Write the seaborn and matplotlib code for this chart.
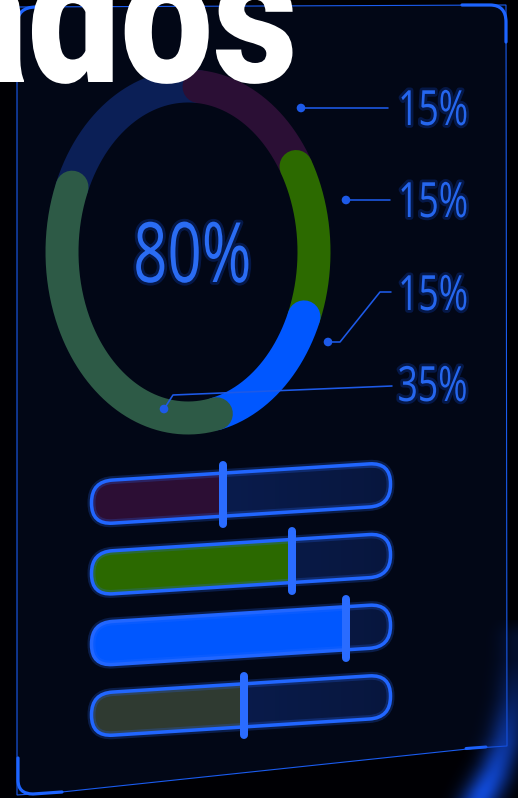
import numpy as np
import matplotlib
matplotlib.use("Agg")
import matplotlib.pyplot as plt
import seaborn as sns
from matplotlib.patches import FancyBboxPatch, Polygon, PathPatch, Circle
from matplotlib.path import Path
from matplotlib.transforms import Affine2D
import matplotlib.patheffects as pe

# ---- data -------------------------------------------------------------
title_text = "Resultados"

# donut: filled shares (clockwise from the top); the rest is the empty track
ring_values = [15, 15, 15, 35]
ring_colors = ["#2b0f35", "#2c6a00", "#0057ff", "#2d5a46"]
ring_rest_color = "#0b1f56"

# sliders
slider_names = ["s1", "s2", "s3", "s4"]
slider_values = [44, 67, 85, 51]
slider_colors = ["#2c0e34", "#2b6900", "#0057ff", "#2f3a31"]
slider_track_color = "#0b2058"

# ---- styling ----------------------------------------------------------
W, H, DPI = 518, 798, 100
BG = "#000004"
PANEL = "#020716"
EDGE = "#1a5cf0"
GLOW = "#2a6cff"
TXT = "#2566ee"
PX = 0.72  # points per pixel at 100 dpi

sns.set_theme(style="white")
plt.rcParams["font.family"] = ["Open Sans", "DejaVu Sans"]

fig = plt.figure(figsize=(W / DPI, H / DPI), dpi=DPI, facecolor=BG)


def px_axes(x0, y0, x1, y1):
    """Axes placed by a pixel box measured from the top-left corner."""
    return fig.add_axes([x0 / W, 1 - y1 / H, (x1 - x0) / W, (y1 - y0) / H])


class Narrow(pe.AbstractPathEffect):
    """Squeeze glyphs horizontally about the left or right end, optional halo."""

    def __init__(self, sx, anchor="left", halo="#0d3aa8", halo_w=4.0, halo_a=0.35):
        super().__init__()
        self.sx, self.anchor = sx, anchor
        self.halo, self.halo_w, self.halo_a = halo, halo_w, halo_a

    def draw_path(self, renderer, gc, tpath, affine, rgbFace=None):
        ext = tpath.get_extents()
        x0 = ext.x1 if self.anchor == "right" else ext.x0
        aff = (Affine2D().translate(-x0, 0).scale(self.sx, 1.0).translate(x0, 0)
               + affine)
        if self.halo is not None:
            g = renderer.new_gc()
            g.copy_properties(gc)
            g.set_linewidth(self.halo_w)
            g.set_foreground(self.halo)
            g.set_alpha(self.halo_a)
            g.set_joinstyle("round")
            renderer.draw_path(g, tpath, aff)
            g.restore()
        renderer.draw_path(gc, tpath, aff, rgbFace)


# ---- background panel -------------------------------------------------
bg = fig.add_axes([0, 0, 1, 1])
bg.set_xlim(0, W)
bg.set_ylim(H, 0)
bg.axis("off")
bg.set_facecolor(BG)

panel = Polygon([(17, 7), (506, 5), (507, 746), (477, 748), (62, 792), (17, 795)],
                closed=True, facecolor=PANEL, edgecolor=EDGE, lw=1.1 * PX, zorder=1)
bg.add_patch(panel)

# corner brackets
brackets = [
    [(462, 5), (490, 5), (506, 5), (506, 22), (506, 42)],
    [(18, 758), (18, 780), (18, 794), (33, 794), (62, 792)],
    [(17, 60), (17, 25), (17, 7), (36, 7), (60, 7)],
]
codes = [Path.MOVETO, Path.LINETO, Path.CURVE3, Path.CURVE3, Path.LINETO]
for pts in brackets:
    bg.add_patch(PathPatch(Path(pts, codes), facecolor="none", edgecolor="#1d64ff",
                           lw=3.2 * PX, capstyle="round", zorder=2))
bg.plot([466, 486], [748.5, 747], color="#1d64ff", lw=3 * PX,
        solid_capstyle="round", zorder=2)

# soft light sheen along the lower right corner
gx, gy = np.meshgrid(np.arange(400, 519) + 0.5, np.arange(620, 799) + 0.5)
curve = np.array([(517, 640), (514, 700), (506, 740), (494, 772), (476, 806)])
dist = np.full(gx.shape, 1e9)
for (ax_, ay_), (bx_, by_) in zip(curve[:-1], curve[1:]):
    vx, vy = bx_ - ax_, by_ - ay_
    t = np.clip(((gx - ax_) * vx + (gy - ay_) * vy) / (vx * vx + vy * vy), 0, 1)
    d = np.hypot(gx - (ax_ + t * vx), gy - (ay_ + t * vy))
    dist = np.minimum(dist, d)
fade = np.clip((gy - 660) / 130.0, 0, 1) ** 1.1
alpha = np.exp(-(dist / 17.0) ** 2) * (0.2 + 0.8 * fade)
sheen = np.zeros(gx.shape + (4,))
sheen[..., :3] = matplotlib.colors.to_rgb("#1149d4")
sheen[..., 3] = np.clip(alpha, 0, 1)
bg.imshow(sheen, extent=(400, 519, 799, 620), interpolation="bilinear",
          zorder=3, aspect="auto")
bg.set_xlim(0, W)
bg.set_ylim(H, 0)

# ---- donut ------------------------------------------------------------
dax = px_axes(62, 86, 314, 418)
dax.set_xlim(-1, 1)
dax.set_ylim(-1, 1)
dax.axis("off")
dax.patch.set_alpha(0)

start = 85.0
ring_lw = 33 * PX
cum = np.concatenate([[0], np.cumsum(ring_values)])


def arc(a0, a1, n=240):
    t = np.radians(np.linspace(a0, a1, n))
    return np.cos(t), np.sin(t)


x, y = arc(start - 3.6 * cum[-1], start - 360)
dax.plot(x, y, color=ring_rest_color, lw=ring_lw, solid_capstyle="round",
         clip_on=False, zorder=2)
for i, c in enumerate(ring_colors):
    x, y = arc(start - 3.6 * cum[i], start - 3.6 * cum[i + 1])
    dax.plot(x, y, color=c, lw=ring_lw, solid_capstyle="round",
             clip_on=False, zorder=3 + i)

# ---- sliders ----------------------------------------------------------
bx = px_axes(91.5, 467.6, 390.5, 750.3)
bar_w = 0.61
sns.barplot(x=[100] * len(slider_names), y=slider_names, orient="h",
            color=slider_track_color, saturation=1, width=bar_w, ax=bx)
sns.barplot(x=slider_values, y=slider_names, orient="h", hue=slider_names,
            palette=slider_colors, saturation=1, width=bar_w, legend=False, ax=bx)
bx.set_xlim(0, 100)
bx.set_ylim(len(slider_names) - 0.5, -0.5)
bx.axis("off")
bx.patch.set_alpha(0)

# slight perspective: the bars rise to the right
x0d, y0d = bx.transData.transform((0, 0))
shear = Affine2D().translate(-x0d, -y0d).skew(0, np.arctan(0.063)).translate(x0d, y0d)
tr = bx.transData + shear

px_x = 299 / 100.0
px_y = 282.7 / 4.0
aspect = px_x / px_y
r_x = 0.49 * bar_w * px_y / px_x

# darkening toward the right end of each track
shade = np.zeros((2, 64, 4))
shade[..., 3] = np.linspace(0.0, 0.3, 64)[None, :]

rects = list(bx.patches)
tracks, fills = rects[:len(slider_names)], rects[len(slider_names):]
outline_fx = [pe.Stroke(linewidth=8 * PX, foreground=GLOW, alpha=0.22), pe.Normal()]

for k, (trk, fil) in enumerate(zip(tracks, fills)):
    trk.set_visible(False)
    fil.set_visible(False)
    fil.set_transform(tr)
    xy = (trk.get_x(), trk.get_y())
    w, h = trk.get_width(), trk.get_height()
    style = f"round,pad=0,rounding_size={r_x:.3f}"

    base = FancyBboxPatch(xy, w, h, boxstyle=style, mutation_aspect=aspect,
                          facecolor=trk.get_facecolor(), edgecolor="none",
                          transform=tr, zorder=2, clip_on=False)
    bx.add_patch(base)

    im = bx.imshow(shade, extent=(xy[0], xy[0] + w, xy[1] + h, xy[1]),
                   interpolation="bilinear", aspect="auto", zorder=2.5)
    im.set_transform(tr)
    im.set_clip_path(base)

    filled = FancyBboxPatch(xy, w, h, boxstyle=style, mutation_aspect=aspect,
                            facecolor=fil.get_facecolor(), edgecolor="none",
                            transform=tr, zorder=3)
    bx.add_patch(filled)
    filled.set_clip_box(None)
    filled.set_clip_path(fil)

    edge = FancyBboxPatch(xy, w, h, boxstyle=style, mutation_aspect=aspect,
                          facecolor="none", edgecolor="#2166ff", lw=3.5 * PX,
                          transform=tr, zorder=4, path_effects=outline_fx,
                          clip_on=False)
    bx.add_patch(edge)

    cy = trk.get_y() + h / 2
    v = fil.get_width()
    bx.plot([v, v], [cy - 0.42, cy + 0.42], color="#2a6cff", lw=8 * PX,
            solid_capstyle="round", transform=tr, zorder=5, clip_on=False)

bx.set_xlim(0, 100)
bx.set_ylim(len(slider_names) - 0.5, -0.5)

# ---- overlay: labels, leaders, title ----------------------------------
fg = fig.add_axes([0, 0, 1, 1])
fg.set_xlim(0, W)
fg.set_ylim(H, 0)
fg.axis("off")
fg.patch.set_alpha(0)

fg.text(132, 282, f"{int(cum[-1])}%", ha="left", va="baseline", fontsize=60,
        color="#2a6cf4", zorder=10, path_effects=[Narrow(0.72)])

leaders = [
    [(301, 108), (388, 108)],
    [(346, 200), (390, 200)],
    [(328, 342), (340, 342), (380, 292), (391, 292)],
    [(164, 409), (173, 395), (392, 386)],
]
label_base = [125, 217, 310, 401]
for v, path, ly in zip(ring_values, leaders, label_base):
    xs, ys = zip(*path)
    fg.plot(xs, ys, color="#1d5ae8", lw=1.6 * PX, zorder=20)
    fg.add_patch(Circle(path[0], 3.6, color="#1d5ae8", zorder=21))
    fg.text(397, ly, f"{v}%", ha="left", va="baseline", fontsize=35,
            color=TXT, zorder=20, path_effects=[Narrow(0.73)])

fg.text(298, 82, title_text, ha="right", va="baseline", fontsize=138,
        family=["Roboto", "Inter", "DejaVu Sans"], weight="black", color="white",
        zorder=50, path_effects=[Narrow(0.86, anchor="right", halo=None)])

fig.savefig("out.png", dpi=DPI, facecolor=BG)
